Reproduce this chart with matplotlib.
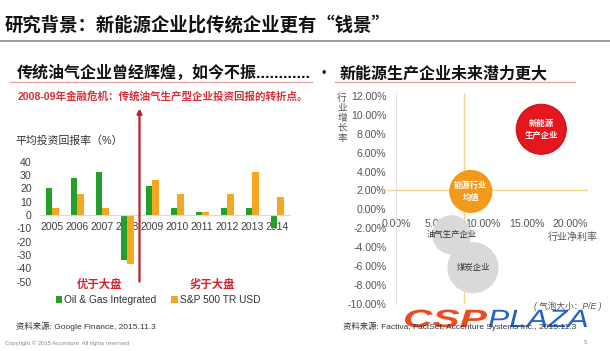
import numpy as np
import matplotlib
matplotlib.use('Agg')
import matplotlib.pyplot as plt
from matplotlib.textpath import TextPath
from matplotlib.patches import PathPatch
from matplotlib.font_manager import FontProperties
from matplotlib.transforms import Affine2D

plt.rcParams['font.family'] = ['Liberation Sans', 'Noto Sans CJK SC', 'DejaVu Sans']
plt.rcParams['axes.unicode_minus'] = False

# left chart: average return on investment (%)
years = ['2005', '2006', '2007', '2008', '2009', '2010', '2011', '2012', '2013', '2014']
oil_gas = [20, 28, 32, -34, 22, 5.5, 2, 5.5, 5, -10]
sp500 = [5, 15.5, 5, -37, 26.5, 15.5, 2, 16, 32, 13.5]

# right chart: net margin (%) vs growth (%), bubble size ~ P/E
bub_names = ['油气生产企业', '煤炭企业', '能源行业\n均值', '新能源\n生产企业']
bub_margin = [6.4, 8.85, 8.6, 16.7]
bub_growth = [-2.7, -6.2, 1.9, 8.5]
bub_pe = [19, 25, 21, 25]
avg_margin = 7.8
avg_growth = 2.1

W, H = 610, 351
fig = plt.figure(figsize=(6.1, 3.51), dpi=100)
fig.patch.set_facecolor('white')

def fx(x):
    return x / W

def fy(y):
    return 1 - y / H

green = '#22a02a'
orange = '#f5a623'
red = '#d8222e'

# header
fig.text(fx(5), fy(25), '研究背景：新能源企业比传统企业更有“钱景”', fontsize=13.2,
         fontweight='bold', color='#111111', va='center', ha='left',
         family=['Noto Sans CJK SC', 'DejaVu Sans'])
fig.add_artist(plt.Line2D([0, 1], [fy(41), fy(41)], color='#8a8a8a', lw=1.2))

fig.text(fx(17), fy(73), '传统油气企业曾经辉煌，如今不振............', fontsize=11.5,
         fontweight='bold', color='#111111', va='center', ha='left')
fig.add_artist(plt.Line2D([fx(10), fx(312)], [fy(82), fy(82)], color='#e3a9a9', lw=1))
fig.text(fx(321), fy(74), '•', fontsize=9, color='#111111', va='center', ha='left')
fig.text(fx(340), fy(73), '新能源生产企业未来潜力更大', fontsize=11.5,
         fontweight='bold', color='#111111', va='center', ha='left')
fig.add_artist(plt.Line2D([fx(335), fx(575)], [fy(82), fy(82)], color='#e3a9a9', lw=1))

fig.text(fx(18), fy(96), '2008-09年金融危机：传统油气生产型企业投资回报的转折点。', fontsize=7.6,
         fontweight='bold', color='#d8303a', va='center', ha='left')
fig.text(fx(15), fy(141), '平均投资回报率（%）', fontsize=7.8, color='#333333', va='center', ha='left')

# left bar chart
ax1 = fig.add_axes([fx(40), fy(281.7), fx(250), 120 / H])
x = np.arange(len(years))
bw = 0.26
b1 = ax1.bar(x - bw / 2, oil_gas, bw, color=green, label='Oil & Gas Integrated', zorder=2)
b2 = ax1.bar(x + bw / 2, sp500, bw, color=orange, label='S&P 500 TR USD', zorder=2)
ax1.set_xlim(-0.48, 9.52)
ax1.set_ylim(-50, 40)
ax1.set_yticks(np.arange(-50, 41, 10))
ax1.set_xticks(x)
ax1.set_xticklabels(years)
for s in ['top', 'right', 'left']:
    ax1.spines[s].set_visible(False)
ax1.spines['bottom'].set_position(('data', 0))
ax1.spines['bottom'].set_color('#d9d9d9')
ax1.tick_params(axis='both', length=0, labelsize=7.6, labelcolor='#404040')
ax1.tick_params(axis='x', pad=5)
ax1.tick_params(axis='y', pad=6)
ax1.set_facecolor('none')

# crisis marker between 2008 and 2009
ax1.annotate('', xy=(3.5, 82), xytext=(3.5, -52), xycoords='data',
             arrowprops=dict(arrowstyle='-|>', color='#b8242c', lw=1.6, mutation_scale=7),
             annotation_clip=False)

fig.text(fx(99), fy(284), '优于大盘', fontsize=8.2, fontweight='bold', color=red, ha='center', va='center')
fig.text(fx(212), fy(284), '劣于大盘', fontsize=8.2, fontweight='bold', color=red, ha='center', va='center')

fig.legend(handles=[b1, b2], loc='center', bbox_to_anchor=(fx(158), fy(300)), ncol=2,
           frameon=False, fontsize=7.3, handlelength=0.6, handleheight=0.6,
           handletextpad=0.2, columnspacing=1.5, labelcolor='#333333')

fig.text(fx(16), fy(326), '资料来源: Google Finance, 2015.11.3', fontsize=6.0, color='#333333',
         va='center', ha='left')
fig.text(fx(5), fy(343), 'Copyright © 2015 Accenture  All rights reserved', fontsize=4.2,
         color='#8a8a8a', va='center', ha='left')

# right bubble chart
ax2 = fig.add_axes([fx(387), fy(304), fx(201), 211 / H])
ax2.set_xlim(-1.03, 22.07)
ax2.set_ylim(-10.05, 12.35)
ax2.axhline(avg_growth, color='#f3d58e', lw=1, zorder=1)
ax2.axvline(avg_margin, color='#f3d58e', lw=1, zorder=1)
sizes = [(2 * r * 0.72) ** 2 for r in bub_pe]
colors = ['#d9d9d9', '#d9d9d9', '#f39a1b', '#e5161d']
edges = ['#d9d9d9', '#d9d9d9', '#f39a1b', '#c81016']
ax2.scatter(bub_margin, bub_growth, s=sizes, c=colors, edgecolors=edges, linewidths=0.8, zorder=3)
txt_col = ['#333333', '#333333', 'white', 'white']
for name, mx, gy, c in zip(bub_names, bub_margin, bub_growth, txt_col):
    ax2.text(mx, gy, name, fontsize=6.0, color=c, ha='center', va='center',
             linespacing=1.6, zorder=4, fontweight='bold' if c == 'white' else 'normal')

ax2.set_xticks([0, 5, 10, 15, 20])
ax2.set_xticklabels(['0.00%', '5.00%', '10.00%', '15.00%', '20.00%'])
ax2.set_yticks(np.arange(-10, 13, 2))
ax2.set_yticklabels(['{:.2f}%'.format(v) for v in np.arange(-10, 13, 2)])
for s in ['top', 'right']:
    ax2.spines[s].set_visible(False)
ax2.spines['left'].set_position(('data', 0))
ax2.spines['left'].set_color('#e3e3e3')
ax2.spines['bottom'].set_position(('data', 0))
ax2.spines['bottom'].set_visible(False)
ax2.tick_params(axis='both', length=0, labelsize=7.6, labelcolor='#555555')
ax2.tick_params(axis='x', pad=7)
ax2.tick_params(axis='y', pad=7)
ax2.set_facecolor('none')

fig.text(fx(342), fy(118), '行\n业\n增\n长\n率', fontsize=7, color='#555555', ha='center',
         va='center', linespacing=1.0)
fig.text(fx(573), fy(237), '行业净利率', fontsize=7.2, color='#555555', ha='center', va='center')
fig.text(fx(568), fy(306), '( 气泡大小：P/E )', fontsize=6.2, color='#555555', ha='center',
         va='center', style='italic')
fig.text(fx(343), fy(326), '资料来源: Factiva, FactSet, Accenture Systems Inc., 2015.11.3',
         fontsize=6.0, color='#333333', va='center', ha='left')
fig.text(fx(585), fy(343), '5', fontsize=4.5, color='#8a8a8a', va='center', ha='center')

# site watermark, stretched wide like the original logo
def logo(word, weight, color, x0, width):
    tp = TextPath((0, 0), word, size=25,
                  prop=FontProperties(family='Liberation Sans', weight=weight, style='italic'))
    ext = tp.get_extents()
    sx = width / ext.width
    tr = Affine2D().translate(-ext.x0, 0).scale(sx, 1.0).translate(x0, H - 327)
    fig.add_artist(PathPatch(tp, transform=tr, facecolor=color, edgecolor='none'))

logo('CSP', 'bold', '#ee4a22', 405, 82)
logo('PLAZA', 'normal', '#1f63c6', 489, 98)

fig.savefig('out.png', dpi=100, facecolor='white')
